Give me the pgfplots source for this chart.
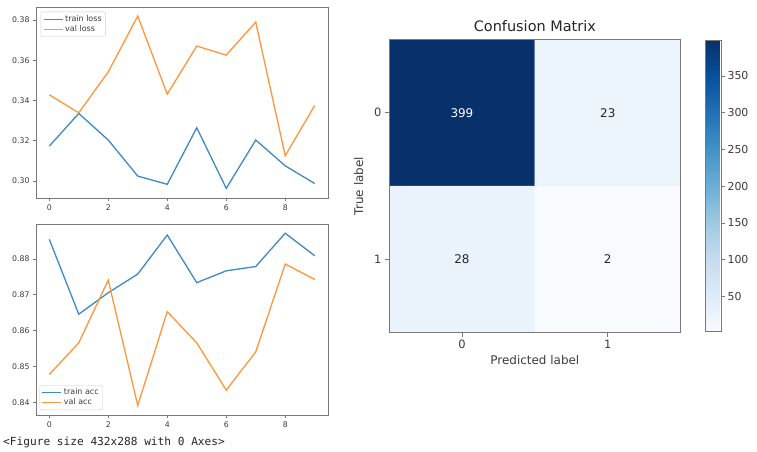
\documentclass[border=0pt]{standalone}
\usepackage{fontspec}
\setmainfont{DejaVu Sans}
\setmonofont{DejaVu Sans Mono}
\usepackage{pgfplots}
\pgfplotsset{compat=1.18}

\definecolor{tabblue}{RGB}{61,139,197}
\definecolor{taborange}{RGB}{255,150,60}
\definecolor{framegray}{RGB}{120,120,120}
\definecolor{ticktext}{RGB}{60,60,60}

\pgfplotsset{
  colormap={blues}{rgb255=(247,251,255) rgb255=(222,235,247) rgb255=(198,219,239)
    rgb255=(158,202,225) rgb255=(107,174,214) rgb255=(66,146,198)
    rgb255=(33,113,181) rgb255=(8,81,156) rgb255=(8,48,107)},
  historyplot/.style={
    scale only axis, width=292bp, height=191bp,
    xmin=-0.45, xmax=9.45, xtick={0,2,4,6,8},
    tick align=outside, major tick length=3bp,
    xtick pos=bottom, ytick pos=left,
    axis line style={framegray, line width=0.9bp},
    tick style={framegray, line width=0.7bp},
    tick label style={font=\fontsize{7.8}{9}\selectfont, text=ticktext},
    /pgf/number format/assume math mode=true,
    yticklabel style={/pgf/number format/.cd, fixed, fixed zerofill, precision=2},
    legend cell align=left,
    legend style={draw=black!20, rounded corners=2bp, fill=white,
      font=\fontsize{8}{9.5}\selectfont, text=ticktext,
      inner xsep=2bp, inner ysep=1.5bp, row sep=-1.5bp},
    legend image code/.code={\draw[##1] (0bp,0bp) -- (19bp,0bp);},
  },
  trainline/.style={draw=tabblue, line width=1.3bp},
  valline/.style={draw=taborange, line width=1.3bp},
}

\begin{document}
\begin{tikzpicture}
\path[use as bounding box, fill=white] (0bp,0bp) rectangle (757bp,-452bp);

% loss history
\begin{axis}[historyplot, at={(36bp,-7bp)}, anchor=north west,
  ymin=0.2916, ymax=0.3865, ytick={0.30,0.32,0.34,0.36,0.38},
  legend style={at={(0,1)}, anchor=north west, xshift=4.7bp, yshift=-4.7bp}]
\addplot[trainline] coordinates {
  (0,0.3174) (1,0.3336) (2,0.3204) (3,0.3025) (4,0.2984)
  (5,0.3265) (6,0.2964) (7,0.3204) (8,0.3076) (9,0.2988)};
\addlegendentry{train loss}
\addplot[valline] coordinates {
  (0,0.3429) (1,0.3339) (2,0.3543) (3,0.3820) (4,0.3432)
  (5,0.3671) (6,0.3626) (7,0.3790) (8,0.3126) (9,0.3376)};
\addlegendentry{val loss}
\end{axis}

% accuracy history
\begin{axis}[historyplot, at={(36bp,-224bp)}, anchor=north west,
  ymin=0.83646, ymax=0.88977, ytick={0.84,0.85,0.86,0.87,0.88},
  legend style={at={(0,0)}, anchor=south west, xshift=3.5bp, yshift=5bp}]
\addplot[trainline] coordinates {
  (0,0.8855) (1,0.8646) (2,0.8706) (3,0.8758) (4,0.8867)
  (5,0.8734) (6,0.8767) (7,0.8779) (8,0.8872) (9,0.8809)};
\addlegendentry{train acc}
\addplot[valline] coordinates {
  (0,0.8478) (1,0.8566) (2,0.8741) (3,0.8391) (4,0.8653)
  (5,0.8566) (6,0.8434) (7,0.8541) (8,0.8786) (9,0.8743)};
\addlegendentry{val acc}
\end{axis}

% confusion matrix
\begin{axis}[at={(389bp,-39.3bp)}, anchor=north west,
  scale only axis, width=291.7bp, height=293.4bp,
  xmin=-0.5, xmax=1.5, ymin=-0.5, ymax=1.5, y dir=reverse,
  enlargelimits=false, axis on top,
  xtick={0,1}, ytick={0,1},
  tick align=outside, major tick length=4bp,
  xtick pos=bottom, ytick pos=left,
  axis line style={framegray, line width=0.9bp},
  tick style={framegray, line width=0.8bp},
  tick label style={font=\fontsize{11.5}{14}\selectfont, text=ticktext},
  label style={font=\fontsize{12}{14}\selectfont, text=ticktext},
  ylabel style={xshift=0bp, yshift=4bp},
  /pgf/number format/assume math mode=true,
  title={Confusion Matrix},
  title style={font=\fontsize{14.5}{17}\selectfont, text=black!85, yshift=-2bp},
  xlabel={Predicted label}, ylabel={True label},
  colormap name=blues, point meta min=2, point meta max=399,
  colorbar,
  colorbar style={
    at={(parent axis.north east)}, anchor=north west,
    xshift=16.5bp, yshift=-0.7bp,
    scale only axis, width=15.3bp, height=291.7bp,
    ytick={50,100,150,200,250,300,350},
    ytick pos=right, yticklabel pos=right,
    tick align=outside, major tick length=4bp,
    axis line style={framegray, line width=0.9bp},
    tick style={framegray, line width=0.8bp},
    yticklabel style={font=\fontsize{11}{13}\selectfont, text=ticktext, xshift=-1bp},
    /pgf/number format/assume math mode=true,
  },
]
\addplot[matrix plot*, mesh/cols=2, mesh/rows=2, point meta=explicit]
  coordinates {(0,0) [399] (1,0) [23] (0,1) [28] (1,1) [2]};
\addplot[draw=none, point meta=explicit, nodes near coords,
  nodes near coords align=center,
  every node near coord/.append style={text=white, font=\fontsize{12}{14}\selectfont}]
  coordinates {(0,0) [399]};
\addplot[draw=none, point meta=explicit, nodes near coords,
  nodes near coords align=center,
  every node near coord/.append style={text=black!85, font=\fontsize{12}{14}\selectfont}]
  coordinates {(1,0) [23] (0,1) [28] (1,1) [2]};
\end{axis}

\node[anchor=base west, inner sep=0pt, text=black!85,
  font=\ttfamily\fontsize{11.2}{13}\selectfont] at (3bp,-445bp) {<Figure size 432x288 with 0 Axes>};
\end{tikzpicture}
\end{document}
